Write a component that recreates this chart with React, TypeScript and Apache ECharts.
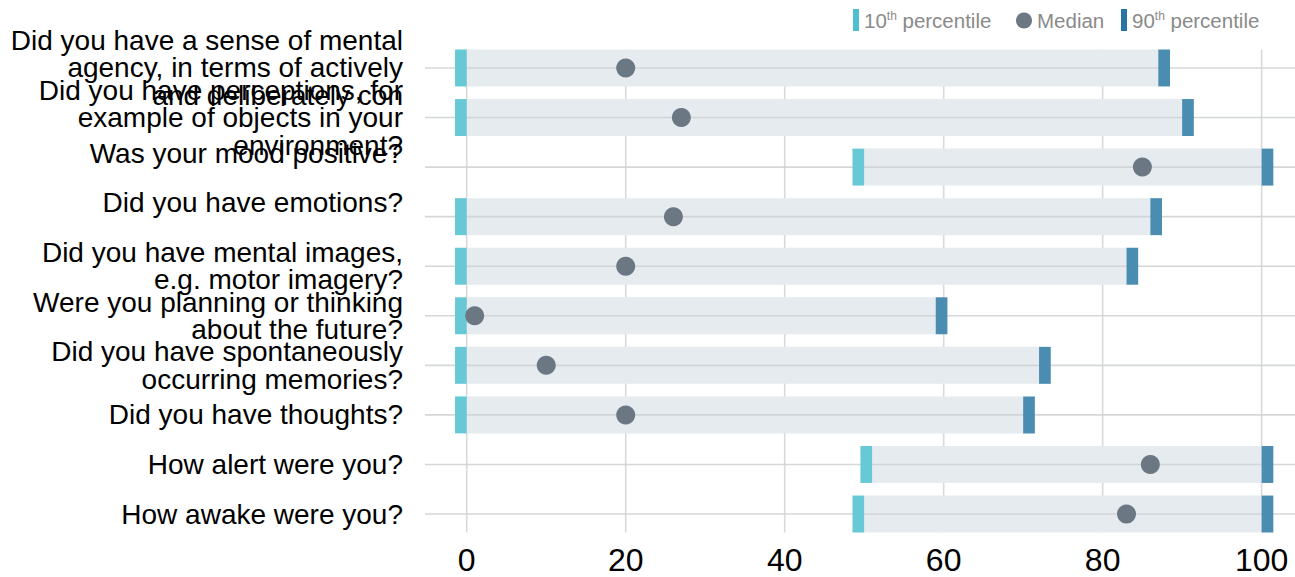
import React, { useEffect, useRef } from "react";
import * as echarts from "echarts";

const categories = [
  "Did you have a sense of mental\nagency, in terms of actively\nand deliberately con",
  "Did you have perceptions, for\nexample of objects in your\nenvironment?",
  "Was your mood positive?\n",
  "Did you have emotions?\n",
  "Did you have mental images,\ne.g. motor imagery?",
  "Were you planning or thinking\nabout the future?",
  "Did you have spontaneously\noccurring memories?",
  "Did you have thoughts?",
  "How alert were you?",
  "How awake were you?",
];
const p10 = [0, 0, 50, 0, 0, 0, 0, 0, 51, 50];
const median = [20, 27, 85, 26, 20, 1, 10, 20, 86, 83];
const p90 = [87, 90, 100, 86, 83, 59, 72, 70, 100, 100];
const xTicks = [0, 20, 40, 60, 80, 100];

const BAR_FRAC = 0.746;
const MARK_W = 11.7;
const FONT = "'Liberation Sans', Arial, Helvetica, sans-serif";

export default function App() {
  const ref = useRef<HTMLDivElement>(null);
  useEffect(() => {
    if (!ref.current) return;
    const chart = echarts.init(ref.current, undefined, { renderer: "svg" });
    const n = categories.length;
    const legendText = {
      color: "#8a8a8a",
      fontSize: 20.5,
      fontFamily: FONT,
      rich: {
        n: { fontSize: 20.5, color: "#8a8a8a", fontFamily: FONT, lineHeight: 22 },
        sup: { fontSize: 12, color: "#8a8a8a", fontFamily: FONT, lineHeight: 12, verticalAlign: "top", padding: [1, 0, 0, 0] },
      },
    };
    const fmt = (name: string) => {
      const m = name.match(/^(\d+)th (.*)$/);
      if (m) return `{n|${m[1]}}{sup|th}{n| ${m[2]}}`;
      return `{n|${name}}`;
    };
    const legendBase = { selectedMode: false, formatter: fmt, textStyle: legendText, padding: 0 };
    const option: any = {
      animation: false,
      legend: [
        {
          ...legendBase,
          data: [{ name: "10th percentile", icon: "rect" }],
          left: 853, top: 9, itemWidth: 6, itemHeight: 22,
        },
        {
          ...legendBase,
          data: [{ name: "Median", icon: "circle" }],
          left: 1016, top: 10, itemWidth: 16, itemHeight: 16,
        },
        {
          ...legendBase,
          data: [{ name: "90th percentile", icon: "rect" }],
          left: 1121, top: 9, itemWidth: 6, itemHeight: 22,
        },
      ],
      grid: { left: 425, right: 0, top: 43.2, bottom: 38.2, containLabel: false },
      xAxis: {
        type: "value",
        min: -5.25,
        max: 104.2,
        axisLine: { show: false },
        axisTick: { show: false },
        splitLine: { show: false },
        axisLabel: {
          customValues: xTicks,
          fontSize: 32,
          lineHeight: 28,
          color: "#000",
          fontFamily: FONT,
          margin: 7.5,
        },
      },
      yAxis: {
        type: "category",
        data: categories,
        inverse: true,
        axisLine: { show: false },
        axisTick: { show: false },
        splitLine: { show: false },
        axisLabel: {
          interval: 0,
          fontSize: 28,
          lineHeight: 27.5,
          color: "#000",
          fontFamily: FONT,
          align: "right",
          margin: 22,
        },
      },
      series: [
        {
          name: "gridlines",
          type: "custom",
          z: 1,
          silent: true,
          data: xTicks.map((v) => [v, 0]),
          encode: { x: 0, y: 1 },
          renderItem: (params: any, api: any) => {
            const v = api.value(0);
            const top = api.coord([v, 0]);
            const bot = api.coord([v, n - 1]);
            const half = (api.size([0, 1])[1] * BAR_FRAC) / 2;
            return {
              type: "line",
              shape: { x1: top[0], y1: top[1] - half, x2: top[0], y2: bot[1] + half },
              style: { stroke: "#d9d9d9", lineWidth: 1.6 },
            };
          },
        },
        {
          name: "range",
          type: "custom",
          z: 2,
          silent: true,
          data: categories.map((_, i) => [p10[i], i, p90[i]]),
          encode: { x: [0, 2], y: 1 },
          renderItem: (params: any, api: any) => {
            const i = api.value(1);
            const a = api.coord([api.value(0), i]);
            const b = api.coord([api.value(2), i]);
            const h = api.size([0, 1])[1] * BAR_FRAC;
            const cs = params.coordSys;
            return {
              type: "group",
              children: [
                {
                  type: "rect",
                  shape: { x: a[0], y: a[1] - h / 2, width: b[0] - a[0], height: h },
                  style: { fill: "#e5ebee" },
                },
                {
                  type: "line",
                  shape: { x1: cs.x, y1: a[1], x2: cs.x + cs.width, y2: a[1] },
                  style: { stroke: "#cfd3d5", lineWidth: 1.6, opacity: 0.9 },
                },
              ],
            };
          },
        },
        {
          name: "10th percentile",
          type: "custom",
          z: 3,
          itemStyle: { color: "#4dbfcf" },
          data: categories.map((_, i) => [p10[i], i]),
          encode: { x: 0, y: 1 },
          renderItem: (params: any, api: any) => {
            const p = api.coord([api.value(0), api.value(1)]);
            const h = api.size([0, 1])[1] * BAR_FRAC;
            return {
              type: "rect",
              shape: { x: p[0] - MARK_W, y: p[1] - h / 2, width: MARK_W, height: h },
              style: { fill: "#68c9d6" },
            };
          },
        },
        {
          name: "90th percentile",
          type: "custom",
          z: 3,
          itemStyle: { color: "#2a74a0" },
          data: categories.map((_, i) => [p90[i], i]),
          encode: { x: 0, y: 1 },
          renderItem: (params: any, api: any) => {
            const p = api.coord([api.value(0), api.value(1)]);
            const h = api.size([0, 1])[1] * BAR_FRAC;
            return {
              type: "rect",
              shape: { x: p[0], y: p[1] - h / 2, width: MARK_W, height: h },
              style: { fill: "#4a8db1" },
            };
          },
        },
        {
          name: "Median",
          type: "scatter",
          z: 4,
          symbol: "circle",
          symbolSize: 19,
          itemStyle: { color: "#6b7883", opacity: 1 },
          data: categories.map((_, i) => [median[i], i]),
        },
      ],
    };
    chart.setOption(option);
    return () => chart.dispose();
  }, []);
  return (
    <div
      ref={ref}
      style={{ position: "fixed", left: 0, top: 0, width: 1295, height: 577, background: "#fff" }}
    />
  );
}
